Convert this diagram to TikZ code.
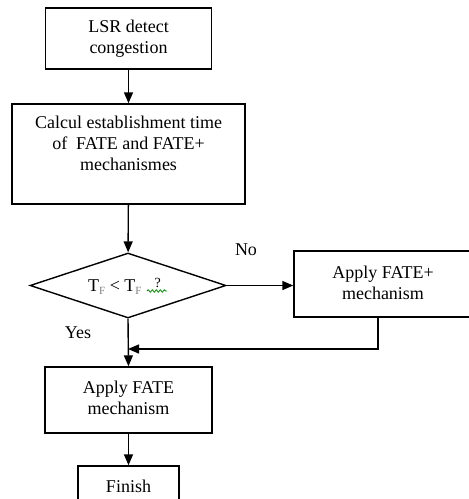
\documentclass[tikz,border=0pt]{standalone}
\usepackage{fontspec}
\setmainfont{Liberation Serif}
\usetikzlibrary{shapes.geometric,arrows.meta,decorations.pathmorphing}
\begin{document}
\begin{tikzpicture}[x=1pt,y=-1pt,
  box/.style={draw, line width=1.4pt, rectangle, inner sep=0pt},
  txt/.style={font=\fontsize{18}{21}\selectfont, align=center, inner sep=0pt},
  flow/.style={line width=1.4pt, -{Triangle[length=11pt,width=9pt]}},
  plain/.style={line width=1.4pt}]
\useasboundingbox (0,0) rectangle (469,499);
% boxes
\node[box, minimum width=166pt, minimum height=61pt] (b1) at (128.5,38.5) {};
\node[txt] at (128.5,39) {LSR detect\\congestion};
\node[box, minimum width=233pt, minimum height=100pt] (b2) at (128.5,154) {};
\node[txt] at (128.5,143) {Calcul establishment time\\of\ \ FATE and FATE+\\mechanismes};
\node[draw, line width=1.4pt, diamond, inner sep=0pt, minimum width=196pt, minimum height=65pt] (d) at (128,285.5) {};
\node[txt, anchor=base west] (dt) at (88,291) {T\textcolor{gray}{\fontsize{11}{12}\selectfont\raisebox{-3pt}{F}} < T\textcolor{gray}{\fontsize{11}{12}\selectfont\raisebox{-3pt}{F}}\hspace{13pt}\raisebox{4pt}{\fontsize{14}{14}\selectfont ?}};
\coordinate (sqa) at (147,291);
\coordinate (sqb) at (167,291);
\draw[green!55!black, line width=0.8pt, decorate, decoration={snake, amplitude=1.2pt, segment length=4pt}] (sqa) -- (sqb);
\node[box, minimum width=177pt, minimum height=66pt] (b3) at (382.5,284) {};
\node[txt] at (383,283) {Apply FATE+\\mechanism};
\node[box, minimum width=167pt, minimum height=66pt] (b4) at (128.5,400) {};
\node[txt] at (128.5,398) {Apply FATE\\mechanism};
\node[box, minimum width=101pt, minimum height=36pt] (b5) at (128.5,484) {};
\node[txt] at (128.5,486) {Finish};
% labels
\node[txt] at (246,250) {No};
\node[txt] at (78,333) {Yes};
% connectors
\draw[flow] (b1) -- (b2);
\draw[flow] (b2) -- (d);
\draw[flow] (d.east) -- (d.east -| b3.west);
\draw[flow] (d.south) -- (b4.north);
\coordinate (j) at (128,349);
\draw[flow] (b3.south -| 378,0) |- (j);
\draw[flow] (b4) -- (b5);
\end{tikzpicture}
\end{document}
